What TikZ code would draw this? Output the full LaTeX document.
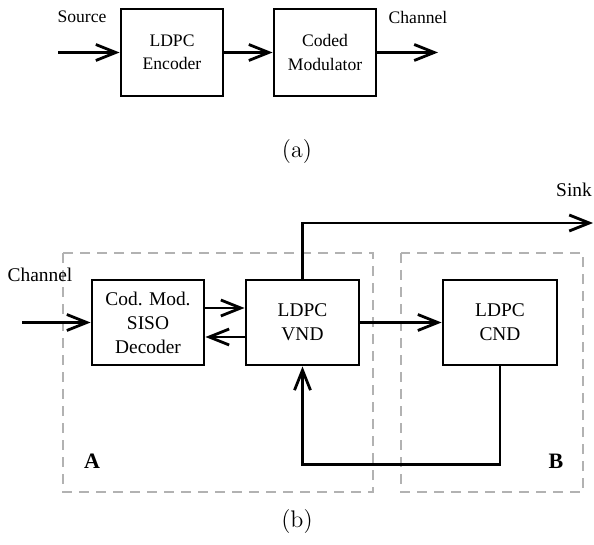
\documentclass[tikz,border=0pt]{standalone}
\usepackage{fontspec}
\setmainfont{Liberation Serif}
\usetikzlibrary{arrows.meta}

\begin{document}
\begin{tikzpicture}[x=0.5pt, y=-0.5pt, line width=1.4pt,
  bloque/.style={draw, align=center, inner sep=0pt},
  flecha/.style={-{Straight Barb[length=10pt, width=8pt]}},
  zona/.style={draw=black!30, line width=1.2pt, dash pattern=on 5pt off 3.5pt},
  letrero/.style={inner sep=0pt}]
  \useasboundingbox (0,0) rectangle (594,545);

  % (a) transmisor
  \node[bloque, minimum width=51pt, minimum height=43.5pt, font=\fontsize{8.8}{11.7}\selectfont] (Enc) at (172, 52.5) {LDPC\\Encoder};
  \node[bloque, minimum width=51pt, minimum height=43.5pt, font=\fontsize{8.8}{11.7}\selectfont] (Mod) at (325, 52.5) {Coded\\Modulator};
  \coordinate (Src) at (58, 52.5);
  \coordinate (ChOut) at (438, 52.5);
  \node[letrero, font=\fontsize{8.8}{11}\selectfont] (SrcL) at (82, 17) {Source};
  \node[letrero, font=\fontsize{8.8}{11}\selectfont] (ChOutL) at (418, 17) {Channel};
  \node[letrero, font=\fontsize{12}{14}\fontfamily{lmr}\selectfont] (CapA) at (297, 152) {(a)};

  \draw[flecha] (Src) -- (Enc);
  \draw[flecha] (Enc) -- (Mod);
  \draw[flecha] (Mod) -- (ChOut);

  % (b) receptor
  \draw[zona] (63, 253) rectangle (373, 492);
  \draw[zona] (401, 253) rectangle (583, 492);
  \node[bloque, minimum width=56pt, minimum height=42.5pt, font=\fontsize{9.7}{12}\selectfont] (SISO) at (148, 322.5) {Cod. Mod.\\SISO\\Decoder};
  \node[bloque, minimum width=56.5pt, minimum height=42.5pt, font=\fontsize{9.7}{12}\selectfont] (VND) at (302.5, 322.5) {LDPC\\VND};
  \node[bloque, minimum width=57pt, minimum height=42.5pt, font=\fontsize{9.7}{12}\selectfont] (CND) at (500, 322.5) {LDPC\\CND};
  \coordinate (ChIn) at (22, 322.5);
  \coordinate (Sink) at (593, 223);
  \node[letrero, font=\fontsize{9.7}{12}\selectfont] (ChInL) at (40, 275) {Channel};
  \node[letrero, font=\fontsize{9.7}{12}\selectfont] (SinkL) at (574, 190) {Sink};
  \node[letrero, font=\fontsize{11}{13}\bfseries] (LetA) at (92, 461) {A};
  \node[letrero, font=\fontsize{11}{13}\bfseries] (LetB) at (556, 461) {B};
  \node[letrero, font=\fontsize{12}{14}\fontfamily{lmr}\selectfont] (CapB) at (297, 522) {(b)};

  \draw[flecha] (ChIn) -- (SISO);
  \draw[flecha] ([yshift=7.25pt]SISO.east) -- ([yshift=7.25pt]VND.west);
  \draw[flecha] ([yshift=-7.25pt]VND.west) -- ([yshift=-7.25pt]SISO.east);
  \draw[flecha] (VND) -- (CND);
  \draw[flecha] (VND.north) |- (Sink);
  \draw[flecha] (CND.south) -- ++(0, 98) -| (VND.south);

\end{tikzpicture}
\end{document}
